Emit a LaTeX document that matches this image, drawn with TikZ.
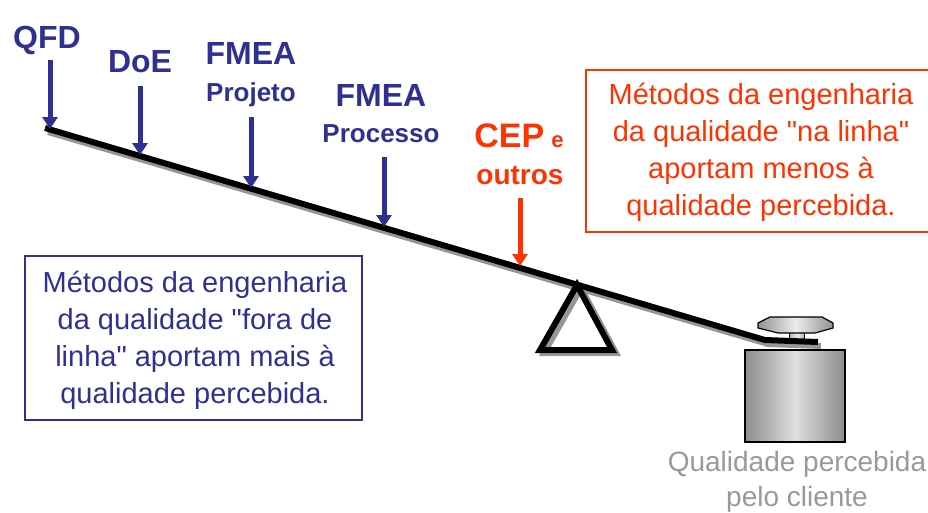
\documentclass[tikz,border=0pt]{standalone}
\usepackage{fontspec}
\setmainfont{Liberation Sans}[Ligatures=TeXOff]
\usetikzlibrary{arrows.meta}
\definecolor{navy}{RGB}{46,49,146}
\definecolor{redor}{RGB}{255,51,0}
\definecolor{shadowgray}{RGB}{150,150,150}
\begin{document}
\begin{tikzpicture}[x=1pt,y=-1pt,
  lbl/.style={font=\fontsize{32}{34}\selectfont\bfseries, text=navy, inner sep=0pt},
  sublbl/.style={font=\fontsize{26}{28}\selectfont\bfseries, text=navy, inner sep=0pt},
  downarrow/.style={line width=5pt, -{Triangle[width=15pt,length=12pt]}},
  boxtext/.style={font=\fontsize{29}{37}\selectfont, align=center, inner sep=0pt},
]
\useasboundingbox (0,0) rectangle (928,512);
\clip (0,0) rectangle (928,512);

% beam coordinates
\coordinate (bL) at (45,128);
\coordinate (bK) at (765,340);
\coordinate (bR) at (818,342);
\coordinate (apex) at (577,285);
\coordinate (baseL) at (540,350);
\coordinate (baseR) at (612,350);

% shadows
\draw[shadowgray, line width=6pt, line join=miter] ([shift={(3,4)}]bL) -- ([shift={(3,4)}]bK) -- ([shift={(3,4)}]bR);
\draw[shadowgray, line width=6pt, line join=miter] ([shift={(4,3)}]apex) -- ([shift={(4,3)}]baseR) -- ([shift={(4,3)}]baseL) -- cycle;

% fulcrum
\draw[black, line width=6pt, line join=miter] (apex) -- (baseR) -- (baseL) -- cycle;

% weight body
\node[draw=black, line width=1.5pt, minimum width=100pt, minimum height=92pt, inner sep=0pt,
  left color=gray!90, right color=gray!90, middle color=gray!25, shading angle=90] (body) at (795,396) {};
% knob stem
\node[draw=black, line width=0.8pt, minimum width=15pt, minimum height=9pt, inner sep=0pt,
  left color=gray!60, right color=gray!60, middle color=gray!15] (stem) at (797,336) {};
% knob
\path[draw=black, line width=1.2pt, left color=gray!85, right color=gray!85, middle color=gray!15]
  (770,317) -- (822,317) -- (833,323) -- (833,328) -- (815,333) -- (778,333) -- (758,328) -- (758,323) -- cycle;

% beam
\draw[black, line width=6pt, line join=miter] (bL) -- (bK) -- (bR);

% labels
\node[lbl] (qfd) at (47,40) {QFD};
\node[lbl] (doe) at (140,62) {DoE};
\node[lbl] (fmea1) at (251,53) {FMEA};
\node[sublbl] (proj) at (251,95) {Projeto};
\node[lbl] (fmea2) at (381,95) {FMEA};
\node[sublbl] (proc) at (381,134) {Processo};
\node[inner sep=0pt, text=redor, font=\bfseries] (cep) at (519,136)
  {{\fontsize{34}{36}\selectfont CEP}\hspace{7pt}{\fontsize{22}{24}\selectfont e}};
\node[inner sep=0pt, text=redor, font=\fontsize{28}{30}\selectfont\bfseries] (outros) at (520,175) {outros};

% arrow targets on the beam
\coordinate (tq) at (50,129);
\coordinate (td) at (140,155);
\coordinate (tp) at (251,188);
\coordinate (tr) at (384,227);
\coordinate (tc) at (520,266);
\coordinate (sq) at (50,60);
\coordinate (sd) at (140,86);
\coordinate (sp) at (251,117);
\coordinate (sr) at (384,157);
\coordinate (sc) at (520,198);

\draw[downarrow, navy] (sq) -- (tq);
\draw[downarrow, navy] (sd) -- (td);
\draw[downarrow, navy] (sp) -- (tp);
\draw[downarrow, navy] (sr) -- (tr);
\draw[downarrow, redor] (sc) -- (tc);

% boxes
\node[draw=navy, line width=2.5pt, minimum width=337pt, minimum height=164pt, inner sep=0pt] (bluebox) at (193.5,338) {};
\node[boxtext, text=navy] (bluetext) at (195,340)
  {Métodos da engenharia\\da qualidade "fora de\\linha" aportam mais à\\qualidade percebida.};

\draw[redor, line width=2.5pt] (586,70) rectangle (940,232);
\node[boxtext, text=redor] (redtext) at (761,152)
  {Métodos da engenharia\\da qualidade "na linha"\\aportam menos à\\qualidade percebida.};

\node[font=\fontsize{28}{35}\selectfont, text=gray!80, align=center, inner sep=0pt] (qp) at (797,482)
  {Qualidade percebida\\pelo cliente};
\end{tikzpicture}
\end{document}
